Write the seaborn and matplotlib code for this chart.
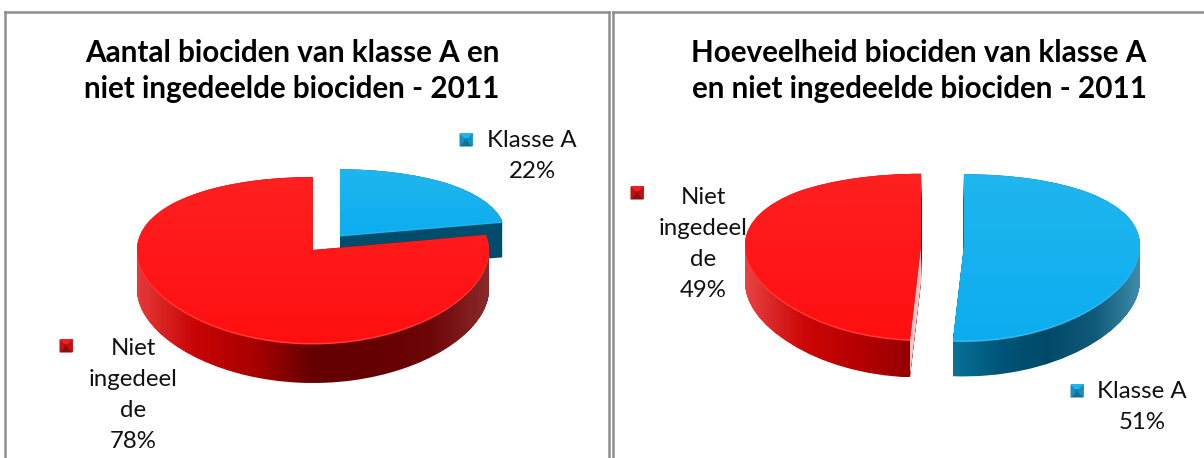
import numpy as np
import matplotlib
matplotlib.use('Agg')
import matplotlib.pyplot as plt
import seaborn as sns
from matplotlib.path import Path
from matplotlib.patches import PathPatch

sns.set_theme(style='white')
plt.rcParams['font.family'] = ['Lato', 'DejaVu Sans']

# === data ===
aantal = [22, 78]            # klasse A, niet ingedeeld
hoeveelheid = [51, 49]
titel_links = 'Aantal biociden van klasse A en\nniet ingedeelde biociden - 2011'
titel_rechts = 'Hoeveelheid biociden van klasse A\nen niet ingedeelde biociden - 2011'
naam_a = 'Klasse A'
naam_niet = 'Niet\ningedeel\nde'

W, H = 1204, 458

# colours
blauw_top = sns.blend_palette(['#20b6ee', '#0cadf0'], as_cmap=True)
rood_top = sns.blend_palette(['#ff2020', '#ff0f10'], as_cmap=True)
rood_zij_links = sns.blend_palette(['#e63a3a', '#c80404', '#a80000', '#640000', '#640000', '#6e0606', '#8a2a2a'], as_cmap=True)
rood_zij_rechts = sns.blend_palette(['#e84444', '#cc0606', '#b40000', '#8c0000'], as_cmap=True)
blauw_zij_rechts = sns.blend_palette(['#0a7099', '#00557a', '#004a68', '#0f5a78', '#3f8cab'], as_cmap=True)
blauw_zij_links = sns.blend_palette(['#004c6c', '#004c6c'], as_cmap=True)


def squash(path, cx, cy, rx, boven, onder):
    # flatten the unit pie into the tilted ellipse, more room in front than at the back
    v = path.vertices
    a, b = (boven + onder) / 2, (onder - boven) / 2
    out = np.column_stack([cx + rx * v[:, 0], cy - v[:, 1] * (a - b * v[:, 1])])
    return Path(out, path.codes)


def shift(path, dy):
    return Path(path.vertices + [0, dy], path.codes)


def gradient(ax, path, cmap, z, vertical=False):
    v = path.vertices
    x0, x1, y0, y1 = v[:, 0].min(), v[:, 0].max(), v[:, 1].min(), v[:, 1].max()
    grad = np.linspace(0, 1, 256)
    grad = grad[:, None] if vertical else grad[None, :]
    im = ax.imshow(grad, cmap=cmap, extent=[x0, x1, y1, y0], aspect='auto', zorder=z, origin='upper')
    im.set_clip_path(path, transform=ax.transData)


def schijf(ax, path, top, zij, rand, diepte, z):
    # side first (sweep of the slice downwards), then rim light, then top face
    veeg = Path.make_compound_path(*[shift(path, d) for d in np.arange(0, diepte + 0.5, 1.0)])
    gradient(ax, veeg, zij, z)
    ax.add_patch(PathPatch(shift(path, 1.5), fc=rand, ec='none', zorder=z + 0.1))
    gradient(ax, path, top, z + 0.2, vertical=True)


def sleutel(ax, x, y, licht, midden, donker):
    # small bevelled legend square
    s, k = 6.5, 2
    ax.fill([x - s, x + s, x + s, x - s], [y - s, y - s, y + s, y + s], color=licht, zorder=5, lw=0)
    ax.fill([x - s, x, x - s], [y - s, y, y + s], color=midden, zorder=5.1, lw=0)
    ax.fill([x + s, x, x + s], [y - s, y, y + s], color=midden, zorder=5.1, lw=0)
    ax.fill([x - s, x + s, x], [y + s, y + s, y], color=donker, zorder=5.1, lw=0)
    ax.fill([x - k, x + k, x + k, x - k], [y - k, y - k, y + k, y + k], color=donker, zorder=5.2, lw=0, alpha=.6)


def paneel(fig, x0, x1, y0=12):
    ax = fig.add_axes([x0 / W, 0, (x1 - x0) / W, (H - y0) / H])
    return ax


def afwerken(ax, x0, x1, y0=12, rechts=True):
    ax.set_xlim(x0, x1)
    ax.set_ylim(H, y0)
    ax.set_aspect('auto')
    ax.set_xticks([])
    ax.set_yticks([])
    ax.grid(False)
    ax.set_frame_on(True)
    for naam, sp in ax.spines.items():
        sp.set_color('#8e8e8e')
        sp.set_linewidth(1.8)
    ax.spines['bottom'].set_visible(False)
    ax.spines['right'].set_visible(rechts)


fig = plt.figure(figsize=(W / 100, H / 100), dpi=100, facecolor='white')

# === left chart ===
ax1 = paneel(fig, 4.5, 608.5)
wedges, _ = ax1.pie(aantal, explode=[0.24, 0], startangle=90, counterclock=False, frame=True)
wedges[0].set_radius(0.94)
paden = [w.get_patch_transform().transform_path(w.get_path()) for w in wedges]
for w in wedges:
    w.remove()
blauw = squash(paden[0], 313, 250, 176, 73, 93)
rood = squash(paden[1], 313, 250, 176, 73, 93)
schijf(ax1, blauw, blauw_top, blauw_zij_links, '#20b6ee', 36, 1)
schijf(ax1, rood, rood_top, rood_zij_links, '#ff3c36', 40, 2)
afwerken(ax1, 4.5, 608.5)

ax1.text(292, 71, titel_links, ha='center', va='center', fontsize=21.3, fontweight='bold',
         color='black', linespacing=1.34, zorder=6)
ax1.text(532, 156, f'{naam_a}\n{aantal[0]}%', ha='center', va='center', fontsize=17.3, color='#111111',
         linespacing=1.58, zorder=6)
ax1.text(133, 395, f'{naam_niet}\n{aantal[1]}%', ha='center', va='center', fontsize=17.3, color='#111111',
         linespacing=1.58, zorder=6)
sleutel(ax1, 466, 140, '#1fb5ec', '#1a8fbd', '#0f6f96')
sleutel(ax1, 66, 346, '#ee2020', '#c01010', '#8a1010')

# === right chart ===
ax2 = paneel(fig, 613, W)
wedges, _ = ax2.pie(hoeveelheid, explode=[0.122, 0.122], startangle=90, counterclock=False, frame=True)
paden = [w.get_patch_transform().transform_path(w.get_path()) for w in wedges]
for w in wedges:
    w.remove()
blauw = squash(paden[0], 942.5, 245, 176, 71, 95)
rood = squash(paden[1], 942.5, 245, 176, 71, 95)

schijf(ax2, rood, rood_top, rood_zij_rechts, '#ff3c36', 38, 1)
schijf(ax2, blauw, blauw_top, blauw_zij_rechts, '#35bdf0', 36, 2)

# pale cut face of the red slice, between the side and the top face
top_punt = rood.vertices[np.argmax(rood.vertices[:, 1])]
apex = np.array([942.5 - 176 * 0.122, 245])
ax2.fill([apex[0], apex[0], top_punt[0], top_punt[0]],
         [apex[1], apex[1] + 38, top_punt[1] + 38, top_punt[1]], color='#f5c4c4', lw=0, zorder=1.05)
afwerken(ax2, 613, W, rechts=False)

ax2.text(919, 71, titel_rechts, ha='center', va='center', fontsize=21.3, fontweight='bold',
         color='black', linespacing=1.34, zorder=6)
ax2.text(703, 244, f'{naam_niet}\n{hoeveelheid[1]}%', ha='center', va='center', fontsize=17.3, color='#111111',
         linespacing=1.58, zorder=6)
ax2.text(1142, 407, f'{naam_a}\n{hoeveelheid[0]}%', ha='center', va='center', fontsize=17.3, color='#111111',
         linespacing=1.58, zorder=6)
sleutel(ax2, 637, 193, '#ee2020', '#c01010', '#8a1010')
sleutel(ax2, 1077, 391, '#1fb5ec', '#1a8fbd', '#0f6f96')

fig.savefig('out.png', dpi=100, facecolor='white')
